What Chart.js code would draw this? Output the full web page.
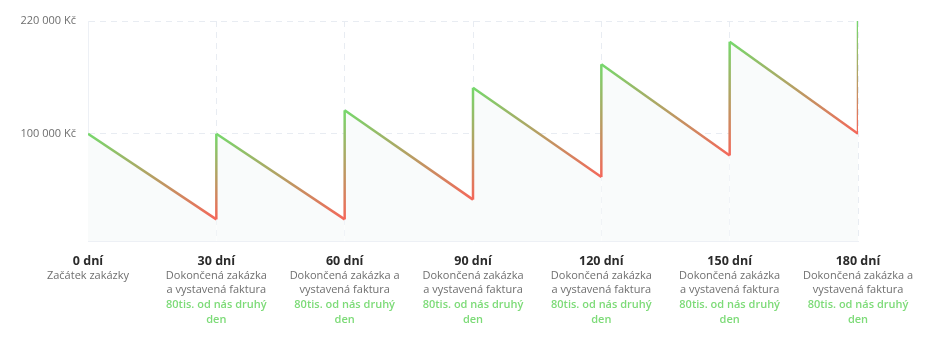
<!DOCTYPE html>
<html>
<head>
<meta charset="utf-8">
<script src="https://cdn.jsdelivr.net/npm/chart.js@4/dist/chart.umd.min.js"></script>
<style>
  html, body { margin: 0; padding: 0; background: #fff; }
  #wrap { width: 930px; height: 342px; position: relative; }
</style>
</head>
<body>
<div id="wrap"><canvas id="cashChart"></canvas></div>
<script>
// dny a stav účtu (vertikální skoky = zaplacená faktura)
const days = [0, 30, 30, 60, 60, 90, 90, 120, 120, 150, 150, 180, 180];
const balance = [100000, 9000, 100000, 9000, 125000, 30000, 149000, 54000, 174000, 77000, 198000, 100000, 220000];

// popisky osy x
const tickDays = [0, 30, 60, 90, 120, 150, 180];
const dayTitles = ['0 dní', '30 dní', '60 dní', '90 dní', '120 dní', '150 dní', '180 dní'];
const dayNotes = [
    ['Začátek zakázky'],
    ['Dokončená zakázka', 'a vystavená faktura'],
    ['Dokončená zakázka a', 'vystavená faktura'],
    ['Dokončená zakázka', 'a vystavená faktura'],
    ['Dokončená zakázka', 'a vystavená faktura'],
    ['Dokončená zakázka', 'a vystavená faktura'],
    ['Dokončená zakázka a', 'vystavená faktura']
];
const dayPayments = [
    [],
    ['80tis. od nás druhý', 'den'],
    ['80tis. od nás druhý', 'den'],
    ['80tis. od nás druhý', 'den'],
    ['80tis. od nás druhý', 'den'],
    ['80tis. od nás druhý', 'den'],
    ['80tis. od nás druhý', 'den']
];
const yTicks = [100000, 220000];

const GREEN = '#76d86c';
const RED = '#f4675a';
const FONT = '"Open Sans", "DejaVu Sans", sans-serif';

const canvas = document.getElementById('cashChart');
const c2d = canvas.getContext('2d');

// gradient po segmentu: výš = zelená, níž = červená
const segColor = (ctx) => {
    const p0 = ctx.p0, p1 = ctx.p1;
    const g = c2d.createLinearGradient(p0.x, p0.y, p1.x, p1.y);
    if (p0.y <= p1.y) { g.addColorStop(0, GREEN); g.addColorStop(1, RED); }
    else { g.addColorStop(0, RED); g.addColorStop(1, GREEN); }
    return g;
};

const bottomLabels = {
    id: 'bottomLabels',
    afterDraw(chart) {
        const { ctx, chartArea } = chart;
        const xs = chart.scales.x;
        ctx.save();
        ctx.textAlign = 'center';
        ctx.textBaseline = 'middle';
        tickDays.forEach((d, i) => {
            const x = xs.getPixelForValue(d);
            let y = chartArea.bottom + 20;
            ctx.font = 'bold 12.5px ' + FONT;
            ctx.fillStyle = '#2b2b2b';
            ctx.fillText(dayTitles[i], x, y);
            ctx.font = '11px ' + FONT;
            ctx.fillStyle = '#6f6f6f';
            dayNotes[i].forEach(t => { y += 14.6; ctx.fillText(t, x, y); });
            ctx.font = '600 11px ' + FONT;
            ctx.fillStyle = '#7ddb78';
            dayPayments[i].forEach(t => { y += 14.6; ctx.fillText(t, x, y); });
        });
        ctx.restore();
    }
};

new Chart(canvas, {
    type: 'line',
    data: {
        datasets: [{
            data: days.map((d, i) => ({ x: d, y: balance[i] })),
            borderWidth: 2.5,
            tension: 0,
            pointRadius: 0,
            pointHoverRadius: 0,
            fill: 'start',
            backgroundColor: '#f9fbfb',
            borderColor: GREEN,
            segment: { borderColor: segColor }
        }]
    },
    options: {
        responsive: true,
        maintainAspectRatio: false,
        animation: false,
        layout: { padding: { top: 21, right: 72, left: 0, bottom: 0 } },
        plugins: { legend: { display: false }, tooltip: { enabled: false } },
        scales: {
            x: {
                type: 'linear',
                min: 0, max: 180,
                ticks: { display: false, stepSize: 30 },
                grid: { color: '#e8ecf2', drawTicks: false, lineWidth: 1 },
                border: { display: true, color: '#edf0f5', dash: [6, 5] },
                afterFit: (s) => { s.height = 101; }
            },
            y: {
                min: -14000, max: 220000,
                afterBuildTicks: (s) => { s.ticks = yTicks.map(v => ({ value: v })); },
                ticks: {
                    padding: 12,
                    color: '#6e6e6e',
                    font: { family: FONT, size: 11 },
                    callback: (v) => v.toString().replace(/\B(?=(\d{3})+(?!\d))/g, ' ') + ' Kč'
                },
                grid: { color: '#e8ecf2', drawTicks: false, lineWidth: 1 },
                border: { display: true, color: '#edf0f5', dash: [6, 5] },
                afterFit: (s) => { s.width = 88; }
            }
        }
    },
    plugins: [bottomLabels]
});
</script>
</body>
</html>
